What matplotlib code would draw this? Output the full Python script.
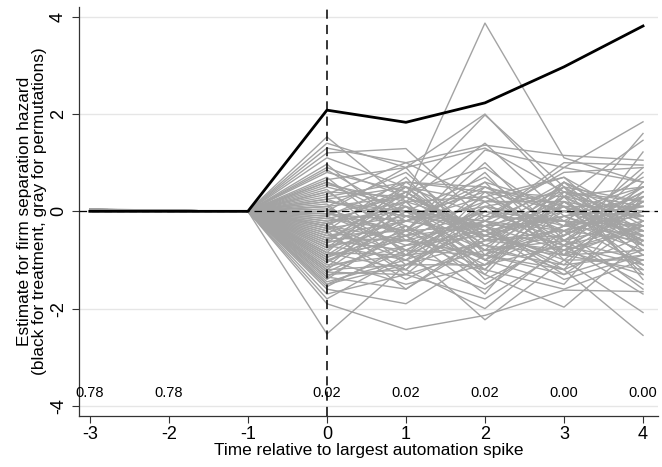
import matplotlib
matplotlib.use("Agg")
import matplotlib.pyplot as plt
import numpy as np

plt.rcParams["font.family"] = ["Liberation Sans", "DejaVu Sans"]

times = [-3, -2, -1, 0, 1, 2, 3, 4]

# treatment estimates (black line)
treat = [0.0, 0.0, 0.0, 2.08, 1.83, 2.23, 2.97, 3.81]

# permutation estimates (gray lines), one row per permutation
perms = [
    [0.03, 0.01, 0.0, 0.40, 0.30, 3.87, 1.10, 0.60],
    [0.02, 0.01, 0.0, 1.53, 0.20, -0.30, 0.10, -0.50],
    [0.04, 0.02, 0.0, 1.40, 0.90, 2.00, 0.30, 0.50],
    [0.01, 0.00, 0.0, 0.90, 0.30, 1.98, 0.50, 0.20],
    [0.03, 0.01, 0.0, 1.30, 1.00, 1.36, 1.15, 1.05],
    [0.02, 0.01, 0.0, 1.20, 1.29, -0.20, 1.00, 0.95],
    [0.05, 0.02, 0.0, 0.97, -0.40, 1.26, 0.90, 1.84],
    [0.01, 0.00, 0.0, -2.52, -1.10, -0.60, -0.80, -0.30],
    [0.02, 0.01, 0.0, -1.90, -2.43, -2.14, -1.62, -1.65],
    [0.03, 0.01, 0.0, -1.60, -1.90, -0.90, -1.20, -2.55],
    [0.02, 0.00, 0.0, -1.50, -0.80, -2.23, -1.00, -2.08],
    [0.04, 0.02, 0.0, -1.30, -1.20, -2.00, -0.70, -1.70],
    [0.01, 0.01, 0.0, -1.00, -0.50, -1.30, -1.97, -0.60],
    [0.03, 0.01, 0.0, 0.60, -0.20, 0.50, -0.30, 1.60],
    [0.02, 0.00, 0.0, 0.10, 0.80, -0.60, 0.30, 1.46],
    [0.03, 0.02, 0.0, -0.30, 0.50, 0.20, -0.90, 1.22],
    [0.01, 0.00, 0.0, 0.80, 0.40, -0.50, 0.20, -0.10],
    [0.02, 0.01, 0.0, 0.70, -0.60, 0.30, -0.40, 0.40],
    [0.04, 0.01, 0.0, 0.50, 0.10, -0.80, 0.60, -0.30],
    [0.02, 0.01, 0.0, 0.45, -0.90, 0.10, -0.20, 0.70],
    [0.03, 0.02, 0.0, 0.30, 0.60, 0.40, -0.70, 0.00],
    [0.01, 0.00, 0.0, 0.25, -0.30, -1.10, 0.20, -0.90],
    [0.02, 0.01, 0.0, 0.20, 0.00, 0.70, -0.50, 0.30],
    [0.03, 0.01, 0.0, 0.15, -1.10, -0.20, 0.50, -0.40],
    [0.02, 0.01, 0.0, 0.10, 0.30, -0.40, -1.00, 0.20],
    [0.04, 0.02, 0.0, 0.05, -0.50, 0.60, 0.10, -1.20],
    [0.01, 0.00, 0.0, 0.00, 0.90, -0.90, -0.30, 0.50],
    [0.02, 0.01, 0.0, -0.05, -0.20, 0.30, 0.70, -0.70],
    [0.03, 0.01, 0.0, -0.10, -0.70, -0.50, -0.10, 0.10],
    [0.02, 0.00, 0.0, -0.15, 0.20, -1.30, 0.40, -0.20],
    [0.01, 0.01, 0.0, -0.20, -1.30, 0.00, -0.60, -1.00],
    [0.03, 0.02, 0.0, -0.25, 0.40, -0.70, -1.20, 0.60],
    [0.02, 0.01, 0.0, -0.30, -0.90, 0.50, 0.00, -0.50],
    [0.04, 0.01, 0.0, -0.35, -0.10, -0.30, -0.80, 0.30],
    [0.02, 0.01, 0.0, -0.40, 0.70, -1.00, 0.30, -1.30],
    [0.03, 0.02, 0.0, -0.45, -1.40, -0.60, -0.40, 0.00],
    [0.01, 0.00, 0.0, -0.50, -0.40, 0.80, -0.90, -0.80],
    [0.02, 0.01, 0.0, -0.55, 0.10, -1.20, 0.60, -0.10],
    [0.03, 0.01, 0.0, -0.60, -0.80, -0.10, -0.20, -1.10],
    [0.02, 0.01, 0.0, -0.65, 0.50, -0.80, -1.10, 0.40],
    [0.04, 0.02, 0.0, -0.70, -1.00, 0.20, 0.20, -0.60],
    [0.01, 0.00, 0.0, -0.75, -0.30, -1.50, -0.50, 0.20],
    [0.02, 0.01, 0.0, -0.80, 0.30, -0.40, -1.40, -0.90],
    [0.03, 0.01, 0.0, -0.85, -1.20, 0.40, 0.00, -0.30],
    [0.02, 0.00, 0.0, -0.90, -0.60, -0.90, 0.50, -1.40],
    [0.01, 0.01, 0.0, -0.95, 0.00, -0.20, -0.70, 0.80],
    [0.03, 0.02, 0.0, -1.00, -1.50, -1.10, -0.30, -0.50],
    [0.02, 0.01, 0.0, -1.05, -0.20, 0.60, -1.00, -1.00],
    [0.04, 0.01, 0.0, -1.10, -0.90, -0.70, 0.10, 0.10],
    [0.02, 0.01, 0.0, -1.15, 0.20, -1.40, -0.60, -1.50],
    [0.03, 0.02, 0.0, -1.20, -1.10, -0.30, -1.30, -0.20],
    [0.01, 0.00, 0.0, -1.25, -0.50, -1.70, 0.20, -0.70],
    [0.02, 0.01, 0.0, -1.35, -1.60, -0.50, -0.90, -1.20],
    [0.03, 0.01, 0.0, -1.40, -0.30, -1.00, -1.50, 0.30],
    [0.02, 0.00, 0.0, -1.45, -1.00, -1.60, -0.40, -1.60],
    [0.01, 0.01, 0.0, -1.55, -0.70, -0.40, -1.10, -0.90],
    [0.03, 0.02, 0.0, -1.70, -1.30, -1.80, -0.80, -1.30],
    [0.02, 0.01, 0.0, -1.80, -0.90, -1.20, -1.60, -1.00],
    [0.04, 0.01, 0.0, 0.65, 0.90, 1.30, 0.40, 0.10],
    [0.02, 0.01, 0.0, 1.10, 0.50, -0.10, 0.80, 0.90],
    [0.03, 0.02, 0.0, 0.35, 1.00, 0.20, 0.70, -0.20],
    [0.01, 0.00, 0.0, -0.05, -0.40, 1.00, -0.60, 0.50],
    [0.02, 0.01, 0.0, -0.60, 0.40, 0.90, -0.20, -0.40],
    [0.03, 0.01, 0.0, -0.30, -0.60, -0.20, 0.90, 0.60],
    [0.02, 0.00, 0.0, -0.85, 0.60, -0.50, 0.00, -0.10],
    [0.01, 0.01, 0.0, 0.00, -0.80, -0.90, -1.30, -0.80],
    [0.03, 0.02, 0.0, -0.40, -1.60, -0.60, 0.30, -0.40],
    [0.02, 0.01, 0.0, -1.20, -0.10, -0.80, -0.50, 0.90],
    [0.04, 0.01, 0.0, -0.20, 0.00, -0.30, -0.20, -0.30],
    [0.02, 0.01, 0.0, -0.70, -0.50, 0.00, -0.40, -0.60],
    [0.03, 0.01, 0.0, 0.55, 0.20, 1.40, -0.10, -0.60],
    [0.02, 0.01, 0.0, 0.85, -0.10, 0.40, 0.30, 0.00],
    [0.01, 0.00, 0.0, 0.40, -0.50, -0.30, 0.60, -0.80],
    [0.03, 0.02, 0.0, 0.25, 0.50, -0.60, -0.50, 0.40],
    [0.02, 0.01, 0.0, 0.10, -0.80, 0.10, 0.40, -0.50],
    [0.04, 0.01, 0.0, -0.05, 0.30, -0.70, -0.90, 0.20],
    [0.02, 0.00, 0.0, -0.15, -0.40, 0.20, 0.20, -0.90],
    [0.01, 0.01, 0.0, -0.25, 0.10, -1.00, -0.30, 0.10],
    [0.03, 0.02, 0.0, -0.35, -1.00, -0.40, 0.50, -0.70],
    [0.02, 0.01, 0.0, -0.45, 0.20, 0.30, -0.60, -0.20],
    [0.03, 0.01, 0.0, -0.55, -0.60, -0.90, 0.00, 0.50],
    [0.02, 0.00, 0.0, -0.65, -0.20, 0.10, -0.80, -0.40],
    [0.01, 0.01, 0.0, -0.75, 0.40, -0.60, 0.10, -1.10],
    [0.03, 0.02, 0.0, -0.85, -0.90, -0.20, -0.40, 0.00],
    [0.02, 0.01, 0.0, -0.95, -0.40, -1.20, 0.30, -0.60],
    [0.04, 0.01, 0.0, -1.05, 0.00, -0.50, -0.90, -0.30],
    [0.02, 0.01, 0.0, -1.15, -0.70, 0.00, -0.20, -0.80],
    [0.03, 0.02, 0.0, -1.25, -1.30, -0.80, -0.60, 0.20],
    [0.01, 0.00, 0.0, -1.35, -0.40, -0.30, -1.20, -0.50],
    [0.02, 0.01, 0.0, -1.50, -1.10, -1.10, -0.70, -1.10],
    [0.03, 0.01, 0.0, -0.10, 0.60, 0.50, 0.10, -0.40],
    [0.02, 0.00, 0.0, -0.50, -0.20, -0.50, 0.40, 0.20],
    [0.01, 0.01, 0.0, 0.60, 0.00, -1.00, -0.10, 0.30],
    [0.03, 0.02, 0.0, -0.30, -1.20, 0.10, -0.30, -0.10],
    [0.02, 0.01, 0.0, -0.90, 0.10, -0.40, -0.10, -0.70],
    [0.04, 0.01, 0.0, 0.20, -0.10, -0.20, -0.70, -0.30],
]

# permutation p-values printed along the bottom
pval_times = [-3, -2, 0, 1, 2, 3, 4]
pvals = ["0.78", "0.78", "0.02", "0.02", "0.02", "0.00", "0.00"]

fig = plt.figure(figsize=(6.62, 4.67), dpi=100)
ax = fig.add_axes([0.119, 0.109, 0.875, 0.877])

for row in perms:
    ax.plot(times, row, color="#a3a3a3", lw=1.0, zorder=2)

ax.axhline(0, color="black", lw=0.9, ls=(0, (6, 4)), zorder=3)
ax.axvline(0, color="black", lw=1.1, ls=(0, (6, 4)), zorder=3)
ax.plot(times, treat, color="black", lw=2.0, zorder=4)

for t, p in zip(pval_times, pvals):
    ax.text(t, -3.74, p, ha="center", va="center", fontsize=10.5, zorder=5)

ax.set_xlim(-3.14, 4.19)
ax.set_ylim(-4.21, 4.21)
ax.set_xticks(times)
ax.set_xticklabels([str(t) for t in times], fontsize=13)
ax.set_yticks([-4, -2, 0, 2, 4])
ax.set_yticklabels(["-4", "-2", "0", "2", "4"], fontsize=13,
                   rotation=90, va="center")
ax.tick_params(direction="out", length=5, width=0.8, color="#333333")
ax.tick_params(axis="x", pad=2)
ax.grid(axis="y", color="#e6e6e6", lw=1.0, zorder=0)
ax.set_axisbelow(True)

for side in ["top", "right"]:
    ax.spines[side].set_visible(False)
for side in ["left", "bottom"]:
    ax.spines[side].set_color("#333333")
    ax.spines[side].set_linewidth(0.9)

ax.set_xlabel("Time relative to largest automation spike", fontsize=12.4,
              labelpad=0)
ax.set_ylabel("Estimate for firm separation hazard\n"
              "(black for treatment, gray for permutations)", fontsize=12.4,
              labelpad=2, linespacing=1.0)

plt.savefig("out.png", dpi=100)
